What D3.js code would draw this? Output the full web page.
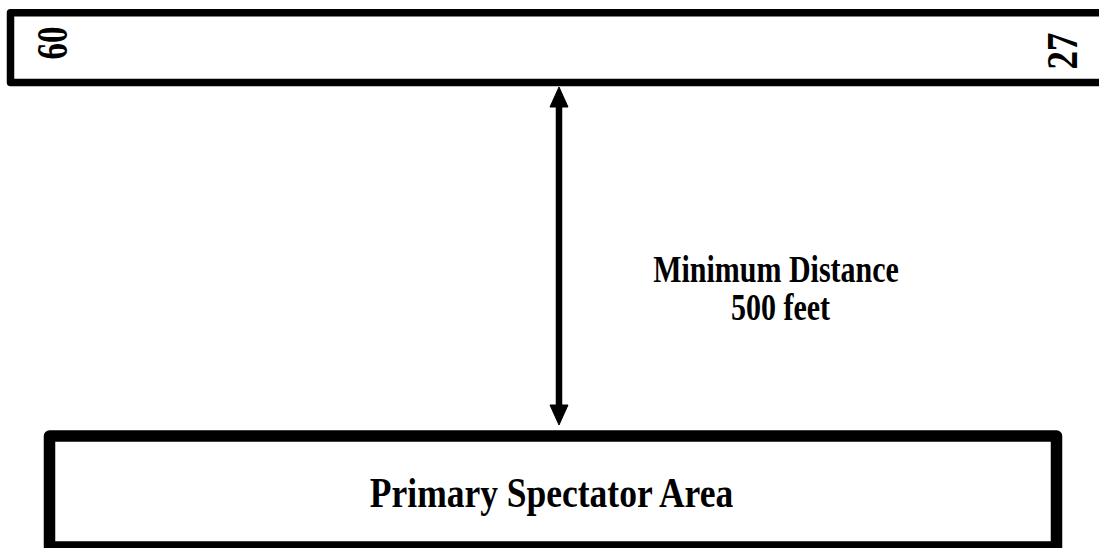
<!DOCTYPE html>
<html>
<head>
<meta charset="utf-8">
<script src="https://cdn.jsdelivr.net/npm/d3@7"></script>
<style>
html,body{margin:0;padding:0;background:#fff;}
svg{display:block;}
text{font-family:"Liberation Serif","Times New Roman",serif;font-weight:bold;fill:#000;}
</style>
</head>
<body>
<svg id="chart" width="1099" height="548"></svg>
<script>
// Data
const runwayEnds = ["60", "27"];
const distanceLabel = ["Minimum Distance", "500 feet"];
const distanceFeet = [0, 500];
const areaLabel = ["Primary Spectator Area"];

const svg = d3.select("#chart");
const W = 1099, H = 548;

// scale for the separation distance (feet -> px)
const y = d3.scaleLinear().domain(distanceFeet).range([425, 87]);

// Runway strip (extends beyond right edge)
svg.append("rect")
  .attr("x", 10.5).attr("y", 12.8)
  .attr("width", 1200).attr("height", 69.7)
  .attr("fill", "none").attr("stroke", "#000")
  .attr("stroke-width", 7.5).attr("stroke-linejoin", "round");

// Runway end numbers
const endPos = [{x: 67, y: 43, k: 1.35, fs: 33}, {x: 1077, y: 51, k: 1.2, fs: 37}];
svg.selectAll("text.rwy").data(runwayEnds).join("text")
  .attr("class", "rwy")
  .attr("text-anchor", "middle")
  .attr("font-size", (d, i) => endPos[i].fs)
  .attr("transform", (d, i) => `translate(${endPos[i].x},${endPos[i].y}) rotate(-90) scale(1,${endPos[i].k})`)
  .text(d => d);

// Spectator area box
svg.append("rect")
  .attr("x", 49.5).attr("y", 436)
  .attr("width", 1007).attr("height", 111)
  .attr("fill", "none").attr("stroke", "#000")
  .attr("stroke-width", 11.5).attr("stroke-linejoin", "round");

svg.selectAll("text.area").data(areaLabel).join("text")
  .attr("class", "area")
  .attr("text-anchor", "middle")
  .attr("font-size", 35.5)
  .attr("transform", `translate(551.5,506.7) scale(1,1.21)`)
  .text(d => d);

// Double arrow
const ax = 559;
const yTop = y(distanceFeet[1]), yBot = y(distanceFeet[0]);
const headL = 20, headW = 9;
svg.append("line")
  .attr("x1", ax).attr("x2", ax)
  .attr("y1", yTop + headL - 2).attr("y2", yBot - headL + 2)
  .attr("stroke", "#000").attr("stroke-width", 6.5);
svg.append("path")
  .attr("d", `M${ax},${yTop} L${ax + headW},${yTop + headL} L${ax - headW},${yTop + headL} Z`)
  .attr("fill", "#000").attr("stroke", "#000").attr("stroke-width", 1).attr("stroke-linejoin", "round");
svg.append("path")
  .attr("d", `M${ax},${yBot} L${ax + headW},${yBot - headL} L${ax - headW},${yBot - headL} Z`)
  .attr("fill", "#000").attr("stroke", "#000").attr("stroke-width", 1).attr("stroke-linejoin", "round");

// Distance label
const lblPos = [{x: 776, y: 281.7}, {x: 780.5, y: 319.5}];
svg.selectAll("text.dist").data(distanceLabel).join("text")
  .attr("class", "dist")
  .attr("text-anchor", "middle")
  .attr("font-size", 30)
  .attr("transform", (d, i) => `translate(${lblPos[i].x},${lblPos[i].y}) scale(1,1.26)`)
  .text(d => d);
</script>
</body>
</html>
